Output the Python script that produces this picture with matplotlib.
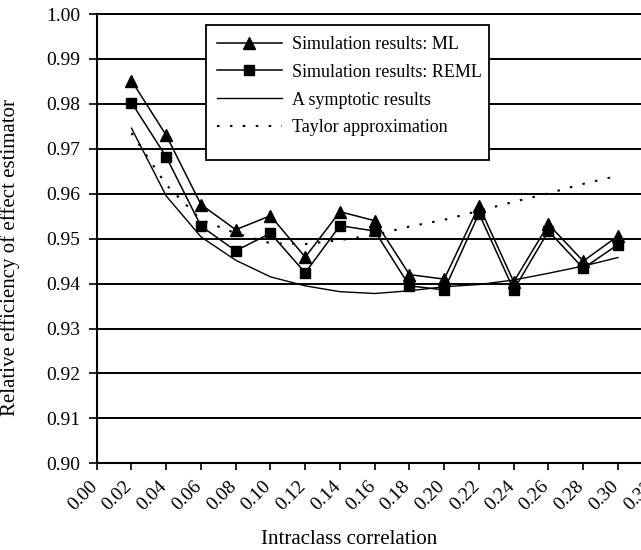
import matplotlib
matplotlib.use("Agg")
import matplotlib.pyplot as plt
import matplotlib.transforms as mtransforms
from matplotlib.patches import Rectangle

plt.rcParams['font.family'] = ['Liberation Serif', 'DejaVu Serif']

x_vals = [0.02, 0.04, 0.06, 0.08, 0.10, 0.12, 0.14, 0.16, 0.18, 0.20, 0.22, 0.24, 0.26, 0.28, 0.30]
ml = [0.9852, 0.9730, 0.9576, 0.9520, 0.9551, 0.9459, 0.9560, 0.9540, 0.9420, 0.9410,
      0.9573, 0.9404, 0.9532, 0.9450, 0.9506]
reml = [0.9803, 0.9682, 0.9528, 0.9473, 0.9512, 0.9424, 0.9529, 0.9517, 0.9395, 0.9386,
        0.9556, 0.9386, 0.9517, 0.9434, 0.9487]
asymptotic = [0.9746, 0.9595, 0.9504, 0.9452, 0.9415, 0.9395, 0.9382, 0.9378, 0.9384, 0.9393,
              0.9398, 0.9408, 0.9423, 0.9439, 0.9458]
taylor = [0.9735, 0.9620, 0.9542, 0.9512, 0.9490, 0.9488, 0.9497, 0.9508, 0.9527, 0.9542,
          0.9562, 0.9582, 0.9601, 0.9622, 0.9640]
x_ticks = [0.00, 0.02, 0.04, 0.06, 0.08, 0.10, 0.12, 0.14, 0.16, 0.18, 0.20, 0.22, 0.24,
           0.26, 0.28, 0.30, 0.32]
y_ticks = [0.90, 0.91, 0.92, 0.93, 0.94, 0.95, 0.96, 0.97, 0.98, 0.99, 1.00]
labels = ["Simulation results: ML", "Simulation results: REML",
          "A symptotic results", "Taylor approximation"]

fig = plt.figure(figsize=(6.41, 5.5), dpi=100)
ax = fig.add_axes([0.1509, 0.1576, 0.8674, 0.8169])
ax.set_xlim(0.0, 0.32)
ax.set_ylim(0.90, 1.00)

for yv in y_ticks[1:]:
    ax.axhline(yv, color='black', lw=1.4, zorder=1, clip_on=False)

l1, = ax.plot(x_vals, ml, color='black', lw=1.1, marker='^', ms=8, zorder=3)
l2, = ax.plot(x_vals, reml, color='black', lw=1.1, marker='s', ms=6.5, zorder=3)
l3, = ax.plot(x_vals, asymptotic, color='black', lw=1.0, zorder=2)
l4, = ax.plot(x_vals, taylor, color='black', lw=1.5, linestyle=(0, (1.2, 5)), zorder=2)

ax.set_xticks(x_ticks)
ax.set_xticklabels([])
label_tf = ax.get_xaxis_transform() + mtransforms.ScaledTranslation(
    -8 / 100, -14 / 100, fig.dpi_scale_trans)
for v in x_ticks:
    ax.text(v, 0, f"{v:.2f}", transform=label_tf, rotation=45, ha='right', va='top',
            rotation_mode='anchor', fontsize=14, clip_on=False)
ax.set_yticks(y_ticks)
ax.set_yticklabels([f"{v:.2f}" for v in y_ticks], fontsize=14)
ax.tick_params(axis='y', direction='out', length=6, width=1.2, color='black', pad=6)
ax.tick_params(axis='x', direction='out', length=5, width=1.2, color='black', pad=3)

for s in ['top', 'right']:
    ax.spines[s].set_visible(False)
for s in ['left', 'bottom']:
    ax.spines[s].set_linewidth(1.5)
    ax.spines[s].set_color('black')

ax.set_ylabel("Relative efficiency of effect estimator", fontsize=15)
ax.yaxis.set_label_coords(-0.138, 0.459)
ax.set_xlabel("Intraclass correlation", fontsize=15)
ax.xaxis.set_label_coords(0.454, -0.148)

box = Rectangle((0.1966, 0.6751), 0.7056 - 0.1966, 0.9755 - 0.6751, transform=ax.transAxes,
                facecolor='white', edgecolor='black', lw=1.3, zorder=4)
ax.add_patch(box)

leg = ax.legend([l1, l2, l3, l4], labels, loc='upper left',
                bbox_to_anchor=(0.1966, 0.9755), fontsize=13, frameon=False,
                handlelength=3.6, handletextpad=0.55, labelspacing=0.6,
                borderpad=0.6, borderaxespad=0)
leg.set_zorder(5)

fig.savefig("out.png", dpi=100)
